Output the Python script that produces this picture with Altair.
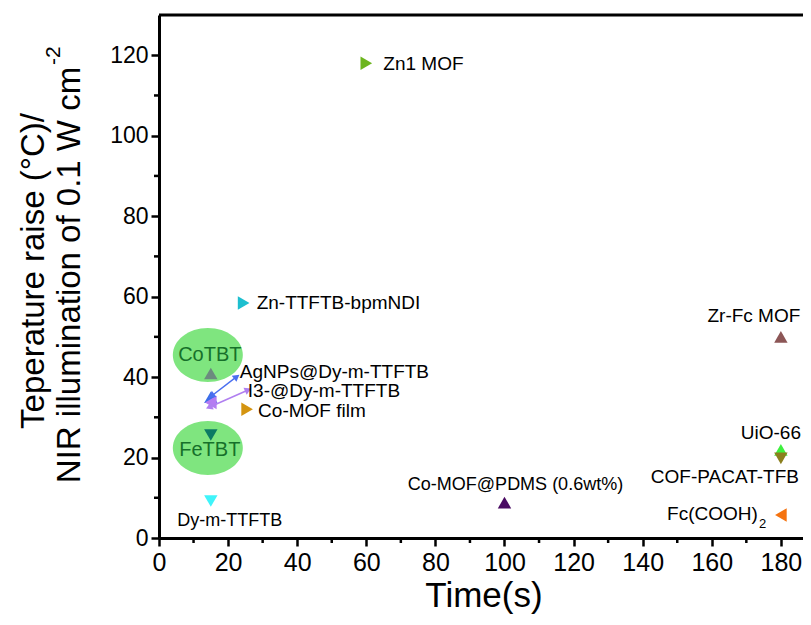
import math
import altair as alt
import pandas as pd

# ---------------- data ----------------
names = ["Zn1 MOF", "Zn-TTFTB-bpmNDI", "CoTBT", "AgNPs@Dy-m-TTFTB", "I3-@Dy-m-TTFTB",
         "Co-MOF film", "FeTBT", "Dy-m-TTFTB", "Co-MOF@PDMS (0.6wt%)", "Zr-Fc MOF",
         "UiO-66", "COF-PACAT-TFB", "Fc(COOH)2"]
time_s = [60, 24.5, 15, 15, 15, 25.5, 15, 15, 100, 180, 180, 180, 180]
temp_raise = [118, 58.4, 40.9, 35.0, 33.7, 32.0, 25.6, 9.2, 8.8, 50.0, 21.9, 19.8, 5.7]

# double-headed arrows linking two overlapping markers to their labels
arrow_x1 = [15.2, 14.5]
arrow_y1 = [35.3, 32.5]
arrow_x2 = [22.5, 25.8]
arrow_y2 = [40.1, 36.8]

x_ticks = [0, 20, 40, 60, 80, 100, 120, 140, 160, 180]
x_minor = [10, 30, 50, 70, 90, 110, 130, 150, 170]
y_ticks = [0, 20, 40, 60, 80, 100, 120]
y_minor = [10, 30, 50, 70, 90, 110]

# ---------------- styles ----------------
shape_of = {
    "Zn1 MOF": "triangle-right", "Zn-TTFTB-bpmNDI": "triangle-right", "CoTBT": "triangle-up",
    "AgNPs@Dy-m-TTFTB": "triangle-up", "I3-@Dy-m-TTFTB": "triangle-left", "Co-MOF film": "triangle-right",
    "FeTBT": "triangle-down", "Dy-m-TTFTB": "triangle-down", "Co-MOF@PDMS (0.6wt%)": "triangle-up",
    "Zr-Fc MOF": "triangle-up", "UiO-66": "triangle-up", "COF-PACAT-TFB": "triangle-down",
    "Fc(COOH)2": "triangle-left",
}
color_of = {
    "Zn1 MOF": "#6cb51e", "Zn-TTFTB-bpmNDI": "#1dbfcf", "CoTBT": "#6c8a7f",
    "AgNPs@Dy-m-TTFTB": "#3a6ee8", "I3-@Dy-m-TTFTB": "#b57cf2", "Co-MOF film": "#d49410",
    "FeTBT": "#0b7a64", "Dy-m-TTFTB": "#3ff4fa", "Co-MOF@PDMS (0.6wt%)": "#4a0b63",
    "Zr-Fc MOF": "#8c5656", "UiO-66": "#3ef03e", "COF-PACAT-TFB": "#8b7f1e",
    "Fc(COOH)2": "#f5730f",
}
arrow_colors = ["#4a6ff0", "#b07ff0"]

SANS = "Liberation Sans, Arial, sans-serif"

# label: text, dx, dy, align, size, color
label_style = {
    "Zn1 MOF": ("Zn1 MOF", 17, 1, "left", 19, "black"),
    "Zn-TTFTB-bpmNDI": ("Zn-TTFTB-bpmNDI", 13, 0, "left", 19, "black"),
    "CoTBT": ("CoTBT", -1, -18, "center", 20, "#16702a"),
    "AgNPs@Dy-m-TTFTB": ("AgNPs@Dy-m-TTFTB", 29, -25, "left", 19, "black"),
    "I3-@Dy-m-TTFTB": ("I3-@Dy-m-TTFTB", 37, -11, "left", 19, "black"),
    "Co-MOF film": ("Co-MOF film", 11, 1.5, "left", 19, "black"),
    "FeTBT": ("FeTBT", -1, 15, "center", 20, "#16702a"),
    "Dy-m-TTFTB": ("Dy-m-TTFTB", 19, 20, "center", 18, "black"),
    "Co-MOF@PDMS (0.6wt%)": ("Co-MOF@PDMS (0.6wt%)", 11, -18, "center", 18, "black"),
    "Zr-Fc MOF": ("Zr-Fc MOF", -27, -21, "center", 19, "black"),
    "UiO-66": ("UiO-66", -10, -17, "center", 19, "black"),
    "COF-PACAT-TFB": ("COF-PACAT-TFB", -56, 19, "center", 19, "black"),
    "Fc(COOH)2": ("Fc(COOH)", -23, -1, "right", 19, "black"),
}
subscripts = {"Fc(COOH)2": ("2", -22, 9, "left", 13)}
ellipse_of = {"CoTBT": (-3, -18.5), "FeTBT": (-3, 13)}
ELLIPSE = ("M -1 0 C -1 -0.425 -0.552 -0.77 0 -0.77 C 0.552 -0.77 1 -0.425 1 0 "
           "C 1 0.425 0.552 0.77 0 0.77 C -0.552 0.77 -1 0.425 -1 0 Z")

W, H = 644, 523
X_MAX, Y_MAX = 186.4, 130
KX, KY = W / X_MAX, H / Y_MAX

df = pd.DataFrame({"name": names, "time": time_s, "temp": temp_raise})

xscale = alt.Scale(domain=[0, X_MAX], nice=False, zero=False)
yscale = alt.Scale(domain=[0, Y_MAX], nice=False, zero=False)
x_axis = alt.Axis(values=x_ticks, title=None, grid=False, labelFont=SANS, labelFontSize=25,
                  labelColor="black", tickSize=8, tickWidth=2.5, tickColor="black",
                  domainColor="black", domainWidth=3, labelPadding=4, labelFlush=False,
                  labelOverlap=False)
y_axis = alt.Axis(values=y_ticks, title=None, grid=False, labelFont=SANS, labelFontSize=23,
                  labelColor="black", tickSize=8, tickWidth=2.5, tickColor="black",
                  domainColor="black", domainWidth=3, labelPadding=3, labelOverlap=False)


def X(field="time"):
    return alt.X(f"{field}:Q", scale=xscale, axis=x_axis)


def Y(field="temp"):
    return alt.Y(f"{field}:Q", scale=yscale, axis=y_axis)


layers = []

# green ellipses behind CoTBT / FeTBT
for n, (ox, oy) in ellipse_of.items():
    layers.append(
        alt.Chart(df).transform_filter(alt.datum.name == n)
        .mark_point(shape=ELLIPSE, filled=True, size=4900, color="#7fe57f", opacity=1,
                    xOffset=ox, yOffset=oy)
        .encode(x=X(), y=Y())
    )

# markers
layers.append(
    alt.Chart(df).mark_point(filled=True, size=180, opacity=1).encode(
        x=X(), y=Y(),
        shape=alt.Shape("name:N", scale=alt.Scale(domain=names, range=[shape_of[n] for n in names]), legend=None),
        color=alt.Color("name:N", scale=alt.Scale(domain=names, range=[color_of[n] for n in names]), legend=None),
    )
)

# arrows (one layer per arrow, fixed colour)
for i in range(len(arrow_x1)):
    seg = pd.DataFrame({"x1": [arrow_x1[i]], "y1": [arrow_y1[i]], "x2": [arrow_x2[i]], "y2": [arrow_y2[i]]})
    dxp = (arrow_x2[i] - arrow_x1[i]) * KX
    dyp = (arrow_y2[i] - arrow_y1[i]) * KY
    ang = math.degrees(math.atan2(dxp, dyp)) % 360
    heads = pd.DataFrame({"time": [arrow_x2[i], arrow_x1[i]],
                          "temp": [arrow_y2[i], arrow_y1[i]],
                          "ang": [ang, (ang + 180) % 360]})
    layers.append(
        alt.Chart(seg).mark_rule(strokeWidth=1.5, color=arrow_colors[i]).encode(
            x=X("x1"), y=Y("y1"), x2="x2:Q", y2="y2:Q")
    )
    layers.append(
        alt.Chart(heads).mark_point(shape="triangle-up", filled=True, size=60, opacity=1,
                                    color=arrow_colors[i]).encode(
            x=X(), y=Y(), angle=alt.Angle("ang:Q", scale=None))
    )

# labels
for n, (txt, dx, dy, align, size, col) in label_style.items():
    layers.append(
        alt.Chart(df).transform_filter(alt.datum.name == n)
        .mark_text(text=txt, dx=dx, dy=dy, align=align, baseline="middle", fontSize=size,
                   font=SANS, color=col)
        .encode(x=X(), y=Y())
    )
for n, (txt, dx, dy, align, size) in subscripts.items():
    layers.append(
        alt.Chart(df).transform_filter(alt.datum.name == n)
        .mark_text(text=txt, dx=dx, dy=dy, align=align, baseline="middle", fontSize=size,
                   font=SANS, color="black")
        .encode(x=X(), y=Y())
    )

# minor ticks
layers.append(
    alt.Chart(pd.DataFrame({"time": x_minor})).mark_rule(color="black", strokeWidth=2.5)
    .encode(x=X(), y=alt.value(H), y2=alt.value(H + 5))
)
layers.append(
    alt.Chart(pd.DataFrame({"temp": y_minor})).mark_rule(color="black", strokeWidth=2.5)
    .encode(y=Y(), x=alt.value(-5), x2=alt.value(0))
)

# top frame line
layers.append(
    alt.Chart(pd.DataFrame({"a": [0]})).mark_rule(color="black", strokeWidth=3)
    .encode(x=alt.value(0), x2=alt.value(W), y=alt.value(0))
)

# axis titles
one = pd.DataFrame({"a": [0]})
layers.append(alt.Chart(one).mark_text(text="Teperature raise (°C)/", angle=270, fontSize=33, font=SANS,
                                       align="center", baseline="middle", color="black")
              .encode(x=alt.value(-125), y=alt.value(256)))
layers.append(alt.Chart(one).mark_text(text="NIR illumination of 0.1 W cm", angle=270, fontSize=33, font=SANS,
                                       align="center", baseline="middle", color="black")
              .encode(x=alt.value(-89), y=alt.value(260)))
layers.append(alt.Chart(one).mark_text(text="-2", angle=270, fontSize=21, font=SANS,
                                       align="left", baseline="middle", color="black")
              .encode(x=alt.value(-105), y=alt.value(50)))
layers.append(alt.Chart(one).mark_text(text="Time(s)", fontSize=35, font=SANS,
                                       align="center", baseline="alphabetic", color="black")
              .encode(x=alt.value(325), y=alt.value(592)))

chart = alt.layer(*layers).properties(
    width=W, height=H,
    autosize=alt.AutoSizeParams(type="none"),
    padding={"left": 151, "top": 7, "right": 0, "bottom": 79},
).configure_view(stroke=None)

chart.save("out.html", embed_options={"renderer": "svg", "actions": False})
